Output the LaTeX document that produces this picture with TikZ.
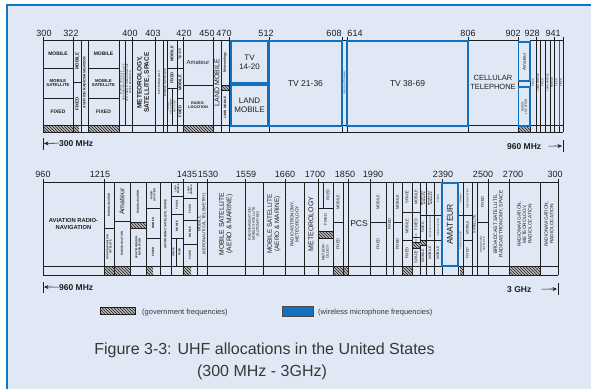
\documentclass[tikz,border=0pt]{standalone}
\usepackage{fontspec}
\setmainfont{Liberation Sans}
\usetikzlibrary{patterns,arrows.meta}
\definecolor{bg}{RGB}{225,232,245}
\definecolor{frameblue}{RGB}{14,118,196}
\definecolor{micblue}{RGB}{18,112,190}
\definecolor{ink}{RGB}{30,30,30}
\definecolor{capc}{RGB}{55,55,55}
\newcommand\fs[1]{\fontsize{#1}{\fpeval{1.12*#1}}\selectfont}
\newcounter{cc}
\tikzset{
 cl/.style={draw=ink,line width=0.65pt},
 rt/.style={rotate=90,align=center,inner sep=0pt,text=ink,font=\fs{#1}},
 rtb/.style={rotate=90,align=center,inner sep=0pt,text=ink,font=\fs{#1}\bfseries},
 ht/.style={align=center,inner sep=0pt,text=ink,font=\fs{#1}},
 htb/.style={align=center,inner sep=0pt,text=ink,font=\fs{#1}\bfseries},
 num/.style={font=\fs{9},text=ink,anchor=base,inner sep=0pt},
 lbl/.style={font=\fs{8.5}\bfseries,text=ink,anchor=base west,inner sep=0pt},
 mic/.style={draw=micblue,line width=1.7pt},
 captext/.style={font=\fs{16},text=capc,anchor=base,inner sep=0pt},
 legtext/.style={font=\fs{7.5},text=capc,anchor=base west,inner sep=0pt},
 arr/.style={draw=ink,line width=0.6pt,-{Stealth[length=4.5pt,width=4pt]}},
}
\newcommand\rc[6][rt=4.2]{\stepcounter{cc}%
 \draw[cl] (#2,#3) rectangle (#4,#5);%
 \node[#1] (c\arabic{cc}) at ({(#2+#4)/2},{(#3+#5)/2}) {#6};}
\newcommand\hc[6][ht=5]{\stepcounter{cc}%
 \draw[cl] (#2,#3) rectangle (#4,#5);%
 \node[#1] (c\arabic{cc}) at ({(#2+#4)/2},{(#3+#5)/2}) {#6};}
\newcommand\mc[6][ht=8]{\stepcounter{cc}%
 \draw[mic] (#2,#3) rectangle (#4,#5);%
 \node[#1] (m\arabic{cc}) at ({(#2+#4)/2},{(#3+#5)/2}) {#6};}
\newcommand\gv[4]{\fill[gray!55] (#1,#2) rectangle (#3,#4);%
 \fill[pattern=north west lines,pattern color=ink] (#1,#2) rectangle (#3,#4);}
\begin{document}
\begin{tikzpicture}[x=1pt,y=-1pt]
\useasboundingbox (0,0) rectangle (591,389);
\fill[white] (0,0) rectangle (591,389);
\fill[bg] (6,4) rectangle (591,389);
\draw[frameblue,line width=2.3pt] (7.15,389) -- (7.15,5.15) -- (591,5.15);

% ---------- top band numbers ----------
\node[num] (t300) at (44,36) {300};
\node[num] (t322) at (71,36) {322};
\node[num] (t400) at (130,36) {400};
\node[num] (t403) at (153,36) {403};
\node[num] (t420) at (184,36) {420};
\node[num] (t450) at (207,36) {450};
\node[num] (t470) at (224,36) {470};
\node[num] (t512) at (266,36) {512};
\node[num] (t608) at (334,36) {608};
\node[num] (t614) at (355,36) {614};
\node[num] (t806) at (468,36) {806};
\node[num] (t902) at (513,36) {902};
\node[num] (t928) at (532,36) {928};
\node[num] (t941) at (553,36) {941};
\foreach \x in {43,73,132,155,183,213,229,269,342,347,468,518,536,554,563}
  \draw[cl] (\x,37) -- (\x,40);

% ---------- top band hatch ----------
\gv{43}{125}{79}{132}
\gv{88}{125}{119}{132}
\gv{183}{125}{213}{132}
\gv{518}{126}{530}{132}
\gv{221}{85}{229}{90}

% ---------- top band cells ----------
\hc[htb=5]{43}{40}{73}{68}{MOBILE}
\hc[htb=4.3]{43}{68}{73}{98}{MOBILE\\SATELLITE}
\hc[htb=5]{43}{98}{73}{125}{FIXED}
\rc[rtb=4.5]{73}{40}{81}{82}{MOBILE}
\rc[rtb=4.5]{73}{82}{81}{125}{FIXED}
\rc[rtb=3.6]{81}{40}{88}{125}{AVIATION RADIONAVIGATION}
\hc[htb=5]{88}{40}{119}{68}{MOBILE}
\hc[htb=4.3]{88}{68}{119}{98}{MOBILE\\SATELLITE}
\hc[htb=5]{88}{98}{119}{125}{FIXED}
\rc[rt=2.5]{119}{40}{125.5}{125}{MOBILE SATELLITE\\RADIONAVIGATION SATELLITE}
\rc[rt=2.5]{125.5}{40}{132}{125}{STD. FREQ. \& TIME SIGNAL SAT.\\SPACE RESEARCH}
\rc[rtb=6.5]{132}{40}{155}{125}{METEOROLOGY,\\SATELLITE, SPACE}
\rc[rt=3]{155}{40}{163}{125}{METEOROLOGY}
\rc[rt=3]{163}{40}{167}{125}{MOBILE SATELLITE}
\rc[rtb=4]{167}{40}{177}{68}{MOBILE}
\rc[rtb=4]{167}{68}{177}{88}{FIXED}
\rc[rt=2.4]{167}{88}{172}{125}{RADIO\\ASTRONOMY}
\rc[rt=2.4]{172}{88}{177}{125}{MET. AIDS}
\rc[rt=4]{177}{40}{183}{68}{Space}
\rc[rtb=4]{177}{68}{183}{98}{MOBILE}
\rc[rtb=4]{177}{98}{183}{125}{FIXED}
\hc[ht=6]{183}{40}{213}{85}{Amateur}
\hc[htb=3.8]{183}{85}{213}{125}{RADIO-\\LOCATION}
\rc[rt=7]{213}{40}{221}{125}{LAND MOBILE}
\rc[rtb=3.4]{221}{40}{229}{85}{Meteorology}
\rc[rtb=3.2]{221}{90}{229}{125}{LAND MOBILE}
\draw[cl] (229,40) rectangle (231,125);
\rc[rt=2.4]{342.5}{40}{346.5}{125}{RADIO ASTRONOMY}
\hc[ht=7.5]{468}{40}{518}{125}{CELLULAR\\TELEPHONE}
\rc[rt=2.6]{530}{40}{536}{125}{FIXED}
\rc[rt=2.6]{536}{40}{540}{125}{LAND MOBILE}
\rc[rt=2.6]{540}{40}{545}{125}{FIXED}
\rc[rt=2.6]{545}{40}{550}{125}{LAND MOBILE}
\rc[rt=2.6]{550}{40}{554}{125}{MOBILE}
\rc[rt=2.6]{554}{40}{559}{125}{FIXED}
\rc[rt=2.6]{559}{40}{563}{125}{FIXED}
\draw[cl] (43,125) -- (563,125);
\draw[cl] (43,132) -- (563,132);
\foreach \x in {43,73,81,88,119,132,155,163,167,177,183,213,221,229,269,342,347,468,518,530,536,540,545,550,554,559,563}
  \draw[cl] (\x,125) -- (\x,132);
% wireless mic boxes (top)
\mc[ht=8]{231}{41}{268}{83}{TV\\14-20}
\mc[ht=8]{231}{85}{268}{126}{LAND\\MOBILE}
\mc[ht=8.5]{269}{41}{342}{126}{TV 21-36}
\mc[ht=8.5]{347}{41}{468}{126}{TV 38-69}
\mc[rt=4.5]{518.5}{42}{530}{81}{Amateur}
\mc[rt=3]{518.5}{87}{530}{126}{RADIO-\\LOCATION}
\draw[micblue,line width=1pt] (559,41) -- (559,126);

% ---------- top band range labels ----------
\node[lbl] (l300) at (59,146) {300 MHz};
\coordinate (lb1) at (44,143.5);
\draw[ink,line width=0.6pt] (43,138) -- (43,150);
\draw[arr] (l300.west) -- (lb1);
\node[lbl] (r960) at (507,149) {960 MHz};
\coordinate (rb1) at (562,146);
\draw[ink,line width=0.6pt] (563,140) -- (563,152);
\draw[arr] ([xshift=7pt]r960.east) -- (rb1);

% ---------- bottom band numbers ----------
\node[num] (b960) at (43,177) {960};
\node[num] (b1215) at (100,177) {1215};
\node[num] (b1435) at (187,177) {1435};
\node[num] (b1530) at (208,177) {1530};
\node[num] (b1559) at (246,177) {1559};
\node[num] (b1660) at (285,177) {1660};
\node[num] (b1700) at (315,177) {1700};
\node[num] (b1850) at (345,177) {1850};
\node[num] (b1990) at (373,177) {1990};
\node[num] (b2390) at (443,177) {2390};
\node[num] (b2500) at (483,177) {2500};
\node[num] (b2700) at (513,177) {2700};
\node[num] (b300) at (555,177) {300};
\foreach \x in {43,104,183,207,245,285,318,348,370,442,488,509,558}
  \draw[cl] (\x,179) -- (\x,182);

% ---------- bottom band hatch ----------
\gv{104}{266}{130}{275}
\gv{146}{266}{153}{275}
\gv{183}{266}{191}{275}
\gv{334}{266}{348}{275}
\gv{402}{266}{412}{275}
\gv{460}{266}{463}{275}
\gv{509}{266}{540}{275}
\gv{130}{222}{146}{228}
\gv{318}{231}{333}{238}
\gv{412}{242}{420}{248}
\gv{420}{240}{426}{245}

% ---------- bottom band cells ----------
\hc[htb=5.8]{43}{182}{104}{266}{AVIATION RADIO-\\NAVIGATION}
\rc[rtb=2.8]{104}{182}{114}{228}{RADIOLOCATION}
\rc[rtb=2.6]{104}{228}{114}{266}{RADIONAVIGATION\\SATELLITE}
\rc[rt=7]{114}{182}{130}{221}{Amateur}
\rc[rtb=2.8]{114}{221}{130}{266}{RADIOLOCATION}
\rc[rtb=2.8]{130}{182}{146}{222}{RADIOLOCATION}
\rc[rtb=2.8]{130}{228}{146}{266}{AVIATION RADIO-\\NAVIGATION}
\rc[rtb=2.6]{146}{182}{160}{208}{RADIO-\\LOCATION}
\rc[rtb=3]{146}{208}{160}{238}{MOBILE}
\rc[rtb=3]{146}{238}{160}{266}{FIXED}
\rc[rtb=3]{160}{182}{171}{266}{ASTRONOMY, SATELLITE, SPACE}
\rc[rtb=2.4]{171}{182}{183}{196}{LAND\\MOBILE}
\rc[rtb=2.8]{171}{196}{183}{214}{FIXED}
\rc[rtb=2.8]{171}{214}{183}{238}{MOBILE}
\rc[rtb=2.6]{171}{238}{176}{266}{SPACE}
\rc[rtb=2.6]{176}{238}{183}{266}{FIXED}
\rc[rtb=2.4]{183}{182}{197}{198}{LAND\\MOBILE}
\rc[rtb=2.8]{183}{198}{197}{220}{FIXED}
\rc[rtb=2.8]{183}{220}{197}{244}{MOBILE}
\rc[rtb=2.8]{183}{244}{197}{266}{FIXED}
\rc[rt=4.2]{197}{182}{207}{266}{MOBILE\\(AERONAUTICAL TELEMETRY)}
\rc[rt=6.8]{207}{182}{245}{266}{MOBILE SATELLITE\\(AERO \& MARINE)}
\rc[rt=3.6]{245}{182}{263}{266}{RADIONAVIGATION\\MOBILE SATELLITE\\(AUTOMATED)}
\rc[rt=6.4]{263}{182}{285}{266}{MOBILE SATELLITE\\(AERO \& MARINE)}
\rc[rt=4.6]{285}{182}{304}{266}{RADIOASTRONOMY,\\METEOROLOGY}
\rc[rt=7]{304}{182}{318}{266}{METEOROLOGY}
\draw[cl] (318,182) rectangle (323,208);
\rc[rt=4]{323}{182}{333}{208}{FIXED}
\rc[rt=4]{318}{208}{333}{231}{FIXED}
\rc[rt=3.8]{318}{238}{333}{266}{METEOR-\\OLOGY}
\rc[rt=4]{333}{182}{343}{222}{MOBILE}
\rc[rt=4]{333}{222}{343}{266}{FIXED}
\draw[cl] (343,182) rectangle (348,266);
\hc[ht=8.5]{348}{182}{370}{266}{PCS}
\rc[rt=4]{370}{182}{386}{222}{MOBILE}
\rc[rt=4]{370}{222}{386}{266}{FIXED}
\rc[rt=4]{386}{182}{393}{266}{FIXED}
\rc[rt=4]{393}{182}{402}{222}{MOBILE}
\rc[rt=4]{393}{222}{402}{266}{FIXED}
\rc[rt=4]{402}{182}{412}{212}{SPACE}
\rc[rt=4]{402}{212}{412}{240}{MOBILE}
\rc[rt=4]{402}{240}{412}{266}{FIXED}
\rc[rt=4]{412}{182}{420}{212}{MOBILE}
\rc[rt=4]{412}{212}{420}{237}{FIXED}
\rc[rt=2.2]{412}{237}{420}{242}{AMATEUR}
\rc[rt=4]{412}{248}{420}{266}{SPACE}
\rc[rtb=2.3]{420}{182}{426}{215}{BROADCAST\\SATELLITE}
\rc[rt=3.6]{420}{215}{426}{240}{FIXED}
\rc[rt=3.6]{420}{245}{426}{266}{MOBILE}
\rc[rtb=2.3]{426}{182}{434}{215}{BROADCAST\\SATELLITE}
\rc[rt=2.2]{426}{215}{434}{240}{RADIONAVIGATION}
\rc[rt=3.6]{426}{240}{434}{266}{MOBILE}
\rc[rt=2.4]{434}{182}{442}{215}{FIXED}
\rc[rt=2.2]{434}{215}{442}{240}{RADIOLOCATION}
\rc[rt=3.6]{434}{240}{442}{266}{MOBILE}
\rc[rt=2.4]{458}{182}{463}{215}{Amateur}
\rc[rt=2.2]{458}{215}{463}{266}{RADIOLOCATION}
\rc[rt=2.4]{463}{182}{472}{215}{RADIOLOCATION}
\rc[rt=3.6]{463}{215}{472}{240}{MOBILE}
\rc[rt=3.6]{463}{240}{472}{266}{FIXED}
\rc[rt=3.6]{472}{182}{477}{266}{SATELLITE}
\rc[rt=4]{477}{182}{488}{222}{FIXED}
\rc[rt=2.6]{477}{222}{488}{266}{BROADCAST\\SATELLITE}
\rc[rt=5]{488}{182}{509}{266}{BROADCAST SATELLITE,\\RADIOASTRONOMY, SPACE}
\rc[rt=4.8]{509}{182}{540}{266}{RADIONAVIGATION,\\METEOROLOGY,\\RADIOLOCATION}
\rc[rt=4.8]{540}{182}{558}{266}{RADIONAVIGATION,\\RADIOLOCATION}
\draw[cl] (43,266) -- (558,266);
\draw[cl] (43,275) -- (558,275);
\foreach \x in {43,104,114,130,146,160,171,183,197,207,245,263,285,304,318,333,343,348,370,386,393,402,412,420,426,434,442,458,463,472,477,488,509,540,558}
  \draw[cl] (\x,266) -- (\x,275);
\mc[rt=8.5]{442}{183}{458}{266}{AMATEUR}

% ---------- bottom band range labels ----------
\node[lbl] (l960) at (59,290) {960 MHz};
\coordinate (lb2) at (44,287);
\draw[ink,line width=0.6pt] (43,282) -- (43,293);
\draw[arr] (l960.west) -- (lb2);
\node[lbl] (r3g) at (507,292) {3 GHz};
\coordinate (rb2) at (557,289);
\draw[ink,line width=0.6pt] (558,283) -- (558,295);
\draw[arr] ([xshift=10pt]r3g.east) -- (rb2);

% ---------- legend ----------
\fill[gray!55] (100,307) rectangle (135,314);
\fill[pattern=north west lines,pattern color=ink] (100,307) rectangle (135,314);
\draw[ink,line width=0.4pt] (100,307) rectangle (135,314);
\node[legtext] (lgov) at (142,314) {(government frequencies)};
\filldraw[fill=micblue,draw=ink!80,line width=0.4pt] (282,306) rectangle (313,316);
\node[legtext] (lmic) at (318,314) {(wireless microphone frequencies)};

% ---------- caption ----------
\node[captext] (cap1) at (264.5,354) {Figure 3-3: UHF allocations in the United States};
\node[captext] (cap2) at (262,376) {(300 MHz - 3GHz)};
\end{tikzpicture}
\end{document}
